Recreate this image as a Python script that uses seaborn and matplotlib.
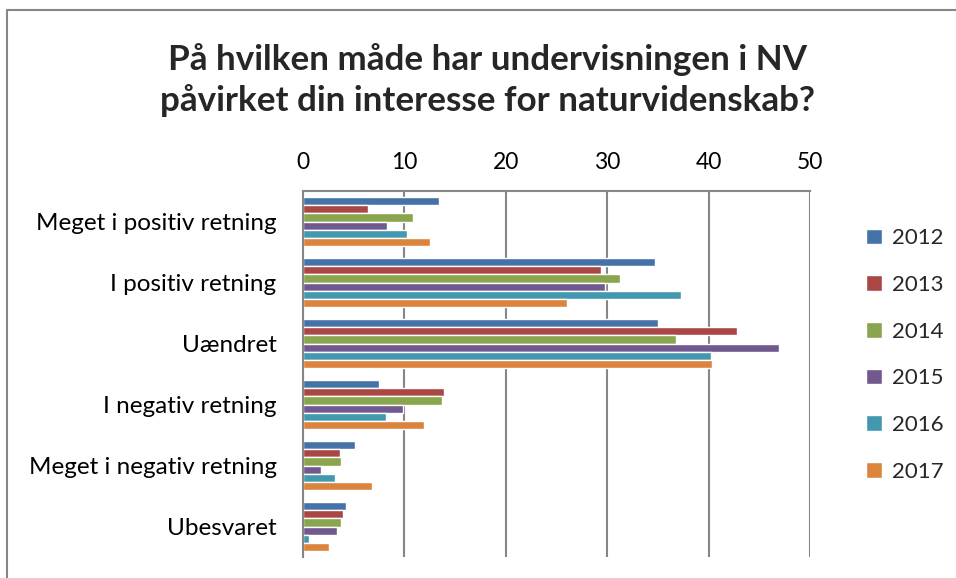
import matplotlib
matplotlib.use("Agg")
import matplotlib.pyplot as plt
from matplotlib.lines import Line2D
import seaborn as sns
import pandas as pd

categories = ["Meget i positiv retning", "I positiv retning", "Uændret",
              "I negativ retning", "Meget i negativ retning", "Ubesvaret"]
years = ["2012", "2013", "2014", "2015", "2016", "2017"]
values_2012 = [13.4, 34.7, 35.0, 7.5, 5.1, 4.2]
values_2013 = [6.4, 29.4, 42.8, 13.9, 3.6, 3.9]
values_2014 = [10.8, 31.3, 36.8, 13.7, 3.7, 3.7]
values_2015 = [8.3, 29.8, 46.9, 9.9, 1.8, 3.4]
values_2016 = [10.3, 37.3, 40.2, 8.2, 3.2, 0.6]
values_2017 = [12.5, 26.0, 40.3, 11.9, 6.8, 2.6]
colors = ["#4572A7", "#AA4643", "#89A54E", "#71588F", "#4198AF", "#DB843D"]
xticks = [0, 10, 20, 30, 40, 50]
title = "På hvilken måde har undervisningen i NV\npåvirket din interesse for naturvidenskab?"

series = [values_2012, values_2013, values_2014, values_2015, values_2016, values_2017]
rows = []
for y, vals in zip(years, series):
    for c, v in zip(categories, vals):
        rows.append({"cat": c, "year": y, "value": v})
df = pd.DataFrame(rows)

sns.set_theme(style="white")
plt.rcParams["font.family"] = ["Lato", "DejaVu Sans"]

fig = plt.figure(figsize=(9.56, 5.78), dpi=100)
ax = fig.add_axes([303/956, 1-557/578, (810-303)/956, (557-191)/578])

sns.barplot(data=df, y="cat", x="value", hue="year", order=categories,
            hue_order=years, palette=colors, orient="h", width=0.8,
            saturation=1, ax=ax, legend=True)

ax.set_xlim(0, 50)
ax.set_ylim(5.5, -0.5)
ax.set_xticks(xticks)
ax.set_xticklabels([str(t) for t in xticks])
ax.xaxis.tick_top()
ax.tick_params(axis="x", length=0, pad=13, labelsize=16.5, labelcolor="black")
ax.tick_params(axis="y", length=0, pad=19, labelsize=17.5, labelcolor="black")
ax.set_xlabel("")
ax.set_ylabel("")
ax.grid(axis="x", color="#868686", linewidth=1.5)
ax.set_axisbelow(True)
for s in ["right", "bottom"]:
    ax.spines[s].set_visible(False)
for s in ["left", "top"]:
    ax.spines[s].set_color("#868686")
    ax.spines[s].set_linewidth(1.5)

handles, labels = ax.get_legend_handles_labels()
ax.get_legend().remove()
fig.legend(handles, labels, loc="center left", bbox_to_anchor=(846/956, 1-355/578),
           frameon=False, fontsize=16, labelspacing=1.2, handlelength=0.7,
           handleheight=0.7, handletextpad=0.45)

fig.text(487/956, 1-80/578, title, ha="center", va="center", fontsize=25.2,
         fontweight="bold", linespacing=1.28)

fig.add_artist(Line2D([7/956, 7/956], [0, 1-10/578], color="#868686", linewidth=1.5,
                      transform=fig.transFigure))
fig.add_artist(Line2D([7/956, 1], [1-10/578, 1-10/578], color="#868686", linewidth=1.5,
                      transform=fig.transFigure))

fig.savefig("out.png", dpi=100)
